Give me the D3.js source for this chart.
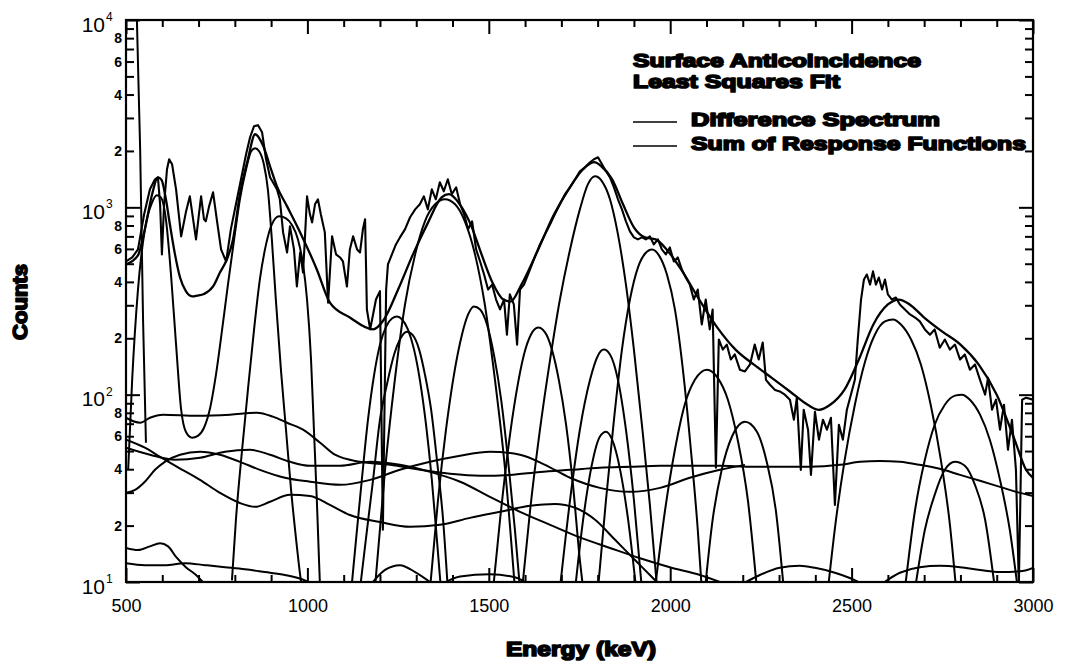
<!DOCTYPE html>
<html>
<head>
<meta charset="utf-8">
<script src="https://cdn.jsdelivr.net/npm/d3@7"></script>
<style>
  body { margin: 0; background: #fff; }
  svg { display: block; }
</style>
</head>
<body>
<script>
// measured spectrum minus background (jagged trace)
const diffSpectrum = [[500,514],[517,540],[533,596],[550,918],[566,1248],[580,1412],[588,1446],[594,1038],[599,561],[605,1038],[613,1597],[619,1806],[627,1698],[638,1248],[652,700],[665,940],[676,1145],[687,811],[693,674],[701,918],[707,1145],[715,863],[720,842],[729,1012],[740,1203],[751,842],[762,596],[776,514],[789,763],[803,1038],[817,1412],[831,1920],[842,2366],[853,2712],[864,2746],[875,2518],[886,1806],[897,1446],[905,1361],[916,1248],[924,1104],[933,735],[944,574],[952,791],[963,596],[971,378],[980,574],[988,449],[993,674],[999,1145],[1007,918],[1013,831],[1021,1038],[1029,1104],[1037,918],[1048,735],[1057,310],[1068,700],[1079,561],[1090,540],[1098,514],[1109,378],[1117,596],[1126,700],[1137,596],[1145,574],[1153,763],[1159,863],[1164,285],[1173,223],[1181,268],[1189,322],[1200,357],[1208,19],[1217,364],[1222,496],[1233,561],[1244,634],[1255,691],[1269,763],[1283,885],[1297,975],[1310,1038],[1321,1145],[1332,975],[1343,1248],[1354,1104],[1365,1361],[1376,1218],[1387,1412],[1398,1175],[1410,1279],[1421,1038],[1432,918],[1443,763],[1454,842],[1465,596],[1476,514],[1487,438],[1498,364],[1509,387],[1520,322],[1531,285],[1542,322],[1550,209],[1558,343],[1569,303],[1578,185],[1586,364],[1597,387],[1608,438],[1619,496],[1630,561],[1641,634],[1655,717],[1669,811],[1682,918],[1696,1038],[1710,1175],[1724,1279],[1738,1412],[1751,1559],[1765,1637],[1779,1741],[1790,1806],[1801,1850],[1812,1698],[1823,1559],[1834,1446],[1845,1279],[1856,1104],[1867,975],[1878,842],[1889,744],[1900,691],[1911,674],[1922,691],[1933,674],[1944,700],[1955,634],[1966,674],[1977,596],[1988,561],[1999,611],[2010,514],[2021,540],[2032,466],[2043,422],[2054,387],[2065,322],[2076,364],[2087,237],[2098,322],[2109,223],[2117,285],[2126,40.7],[2134,197],[2145,174],[2156,185],[2167,154],[2178,164],[2192,136],[2206,133],[2220,145],[2233,185],[2244,154],[2255,190],[2264,120],[2275,113],[2289,106],[2302,104],[2316,100],[2330,94],[2341,73.5],[2349,96.4],[2360,39.7],[2368,83.1],[2380,65],[2388,37.3],[2399,81],[2410,57.5],[2421,73.5],[2432,65],[2443,75.3],[2454,25.8],[2465,69.1],[2476,57.5],[2487,83.1],[2498,100],[2509,120],[2517,197],[2526,322],[2534,412],[2542,438],[2551,387],[2559,455],[2567,387],[2575,422],[2584,364],[2592,412],[2600,343],[2611,322],[2622,330],[2633,303],[2647,285],[2661,268],[2675,258],[2688,246],[2702,223],[2716,209],[2729,223],[2743,178],[2757,197],[2771,174],[2785,185],[2799,154],[2812,164],[2826,136],[2840,145],[2854,120],[2868,100],[2876,123],[2887,83.1],[2898,94],[2909,65],[2920,88.4],[2931,50.8],[2942,73.5],[2953,39.7],[2961,9.6],[2970,94],[2981,96.4],[3000,94]];

// least squares sum of response functions
const sumResponse = [[500,496],[533,554],[552,763],[572,1175],[588,1446],[598,1400],[610,1104],[621,811],[635,561],[649,422],[665,357],[682,335],[696,338],[715,345],[740,378],[759,449],[778,527],[795,674],[814,1175],[836,1806],[856,2456],[878,2130],[897,1657],[916,1295],[944,1012],[980,735],[1026,466],[1062,310],[1117,258],[1181,223],[1211,252],[1250,364],[1291,561],[1330,811],[1370,1130],[1390,1175],[1420,1038],[1450,811],[1480,561],[1510,397],[1540,322],[1560,314],[1590,387],[1630,561],[1680,918],[1720,1248],[1760,1597],[1790,1741],[1810,1657],[1840,1412],[1870,1038],[1900,782],[1930,692],[1960,674],[1990,596],[2030,466],[2080,322],[2130,228],[2180,174],[2230,145],[2280,123],[2330,104],[2380,88],[2410,83],[2440,88],[2480,106],[2520,154],[2560,237],[2600,303],[2630,322],[2660,303],[2700,258],[2750,217],[2800,185],[2850,145],[2900,100],[2950,57],[2980,40],[3000,36]];

// individual response functions (line peaks)
const peak511 = [[528,16560],[530,10120],[539,2042],[547,252],[555,55.4]];
const peak590and850 = [[506,39.7],[517,120],[533,364],[552,763],[572,1064],[585,1160],[596,1130],[610,863],[624,438],[638,185],[652,83.1],[665,63.4],[682,58.9],[698,60.3],[715,66.6],[732,85.2],[748,128],[765,223],[781,387],[798,674],[814,1104],[831,1597],[845,1993],[856,2069],[867,1993],[880,1698],[891,1248],[902,674],[913,322],[927,136],[941,65],[955,31],[969,16.8],[980,10.9],[985,9.2]];
const peak930 = [[792,10.2],[803,21.5],[820,50.8],[836,106],[853,223],[869,412],[886,634],[902,811],[922,895],[941,874],[958,802],[974,674],[988,496],[999,322],[1010,154],[1018,65],[1026,27.4],[1032,13.1],[1035,9.2]];
const peak1247 = [[1123,10],[1134,16.8],[1150,35.1],[1167,73.5],[1184,128],[1200,185],[1217,231],[1233,255],[1247,261],[1261,252],[1277,223],[1294,174],[1310,120],[1327,69.1],[1343,35.1],[1357,16.8],[1368,9.2]];
const peak1274 = [[1145,9.2],[1161,16.8],[1181,35.1],[1200,73.5],[1219,113],[1239,164],[1255,197],[1274,217],[1291,207],[1308,174],[1324,128],[1341,83.1],[1357,44.9],[1374,21.5],[1387,9.2]];
const peak1379 = [[1186,9.2],[1214,39.7],[1241,120],[1269,303],[1297,561],[1324,842],[1352,1038],[1379,1104],[1407,1038],[1434,842],[1462,561],[1489,303],[1517,120],[1545,39.7],[1572,9.2]];
const peak1459 = [[1338,9.2],[1360,27.4],[1382,65],[1404,128],[1426,209],[1443,268],[1459,296],[1476,285],[1495,237],[1514,164],[1534,94],[1553,44.9],[1572,19],[1586,9.2]];
const peak1636 = [[1512,9.2],[1531,21.5],[1553,50.8],[1575,100],[1597,164],[1616,209],[1636,228],[1655,215],[1674,174],[1693,120],[1713,69.1],[1732,33],[1751,13.1],[1760,9.2]];
const peak1793 = [[1592,9.2],[1614,24.3],[1641,65],[1669,154],[1696,322],[1724,596],[1751,975],[1773,1327],[1793,1465],[1812,1377],[1834,1104],[1856,717],[1878,387],[1900,174],[1922,69.1],[1944,25.8],[1964,9.2]];
const peak1817 = [[1696,9.2],[1724,27.4],[1751,65],[1779,120],[1801,162],[1817,174],[1834,164],[1856,120],[1878,65],[1900,27.4],[1922,9.2]];
const peak1823 = [[1738,9.2],[1760,21.5],[1784,42.2],[1806,59.6],[1823,63.4],[1840,57.5],[1862,39.7],[1884,21.5],[1906,9.2]];
const peak1950 = [[1801,9.2],[1823,27.4],[1845,73.5],[1867,174],[1889,322],[1911,477],[1931,567],[1950,596],[1969,554],[1991,438],[2013,285],[2035,136],[2057,50.8],[2076,19],[2087,9.2]];
const peak2101 = [[1958,9.2],[1986,24.3],[2013,50.8],[2040,88.4],[2068,120],[2101,136],[2131,123],[2159,94],[2186,57.5],[2214,27.4],[2239,9.2]];
const peak2206 = [[2096,9.2],[2117,21.5],[2142,39.7],[2170,59.6],[2206,71.7],[2239,63.4],[2266,43.8],[2291,24.3],[2313,9.2]];
const peak2614 = [[2435,9.2],[2457,21.5],[2481,44.9],[2509,88.4],[2537,150],[2564,209],[2592,246],[2614,252],[2636,237],[2664,197],[2691,145],[2718,88.4],[2746,44.9],[2771,20.2],[2788,9.2]];
const peak2804 = [[2647,9.2],[2675,24.3],[2702,44.9],[2729,69.1],[2757,88.4],[2785,98.8],[2804,100],[2826,94],[2854,78.2],[2881,57.5],[2909,35.1],[2936,19],[2958,9.2]];
const peak2785 = [[2675,9.2],[2702,19],[2729,29.2],[2757,39.7],[2785,43.8],[2812,41.7],[2840,33],[2868,21.5],[2895,9.2]];

// continuum response functions
const continuum1 = [[500,75.3],[539,70.8],[566,75.3],[602,78.2],[696,77.2],[787,78.2],[861,80.1],[905,76.3],[944,70.8],[988,65],[1035,55.4],[1076,47.8],[1145,43.8],[1228,42.2],[1310,39.7],[1393,37.8],[1476,36.9],[1558,37.3],[1641,38.7],[1724,39.7],[1806,40.7],[1889,41.2],[1972,41.7],[2054,41.7],[2137,41.7],[2220,41.2],[2302,41.2],[2385,41.2],[2468,42.2],[2523,43.8],[2578,44.3],[2633,43.8],[2688,42.2],[2743,40.2],[2799,37.3],[2854,34.7],[2909,32.2],[2964,29.9],[3000,28.8]];
const continuum2 = [[500,52.1],[566,47.8],[635,44.9],[704,46],[773,49.6],[842,50.8],[897,47.8],[952,43.8],[1007,41.7],[1090,41.7],[1173,43.8],[1255,42.2],[1338,38.7],[1421,34.3],[1503,28.5],[1586,23.7],[1669,20.2],[1751,17.3],[1834,15.2],[1917,13.4],[1999,12],[2082,10.9],[2137,10]];
const continuum3 = [[500,57.5],[552,52.1],[594,46.6],[641,41.2],[704,35.1],[759,29.9],[814,26.4],[856,25.2],[897,26.8],[952,29.2],[1007,28.8],[1062,25.8],[1117,22.8],[1200,20.9],[1283,19.7],[1365,20.2],[1448,22],[1531,23.7],[1614,25.5],[1682,26.1],[1738,24.9],[1793,21.5],[1848,16.8],[1903,13.1],[1944,10.9],[1972,9.6]];
const continuum4 = [[500,29.9],[525,31],[552,34.3],[580,39.7],[607,43.8],[649,47.8],[704,49.6],[759,47.8],[814,43.8],[869,39.7],[938,36],[1007,34.3],[1090,33],[1173,35.1],[1255,39.7],[1338,43.8],[1421,47.2],[1503,49.6],[1586,47.8],[1655,42.2],[1724,36],[1806,31.8],[1889,30.3],[1972,31.8],[2054,36],[2137,39.7],[2206,42.2]];
const continuum5 = [[500,15.2],[533,14.8],[566,15.5],[594,16.1],[616,15.5],[638,13.6],[665,12],[693,10.9],[720,9.6]];
const continuum6 = [[500,12.6],[552,12.3],[607,12.3],[663,12.6],[718,12.3],[773,12],[828,11.7],[883,11.3],[938,10.9],[993,10.2],[1021,9.6]];
const continuum7 = [[1173,9.6],[1214,11.6],[1255,12.3],[1297,11.3],[1338,10]];
const continuum8 = [[1365,9.6],[1421,10.7],[1503,11],[1572,10.6],[1614,9.6]];
const continuum9 = [[2192,9.6],[2247,10.9],[2302,11.9],[2357,12.2],[2399,11.9],[2454,11.2],[2495,10.5],[2537,9.6]];
const continuum10 = [[2578,9.6],[2633,11.2],[2688,12],[2743,12.2],[2799,12],[2854,11.6],[2909,11.3],[2964,11.4],[3000,11.9]];

const responseCurves = [peak511, peak590and850, peak930, peak1247, peak1274, peak1379, peak1459,
  peak1636, peak1793, peak1817, peak1823, peak1950, peak2101, peak2206, peak2614, peak2804, peak2785,
  continuum1, continuum2, continuum3, continuum4, continuum5, continuum6, continuum7, continuum8,
  continuum9, continuum10];

const xMajorTicks = [500, 1000, 1500, 2000, 2500, 3000];
const yDecades = [10, 100, 1000, 10000];
const yDecadeExponents = ["1", "2", "3", "4"];
const yMinorLabels = [2, 4, 6, 8];
const legendTitles = ["Surface Anticoincidence", "Least Squares Fit"];
const legendEntries = ["Difference Spectrum", "Sum of Response Functions"];

const width = 1067, height = 664;
const margin = {top: 20, right: 34, bottom: 82, left: 126};
const innerW = width - margin.left - margin.right,
      innerH = height - margin.top - margin.bottom;

const svg = d3.select("body").append("svg")
    .attr("width", width)
    .attr("height", height);

const g = svg.append("g")
    .attr("transform", `translate(${margin.left},${margin.top})`);

const x = d3.scaleLinear().domain([500, 3000]).range([0, innerW]);
const y = d3.scaleLog().domain([10, 10000]).range([innerH, 0]);

svg.append("defs").append("clipPath").attr("id", "plot")
  .append("rect").attr("width", innerW).attr("height", innerH);

const smooth = d3.line().x(d => x(d[0])).y(d => y(d[1])).curve(d3.curveMonotoneX);
const jagged = d3.line().x(d => x(d[0])).y(d => y(d[1]));

const curves = g.append("g").attr("clip-path", "url(#plot)")
    .attr("fill", "none").attr("stroke", "#000")
    .attr("stroke-linejoin", "round");

curves.selectAll(".resp")
    .data(responseCurves)
    .enter().append("path")
    .attr("class", "resp")
    .attr("stroke-width", 2)
    .attr("d", smooth);

curves.append("path").datum(sumResponse)
    .attr("stroke-width", 2.3)
    .attr("d", smooth);

curves.append("path").datum(diffSpectrum)
    .attr("stroke-width", 2.1)
    .attr("d", jagged);

// ticks (all pointing inward)
const xMinor = d3.range(500, 3001, 100).filter(v => v % 500 !== 0);
const yMinor = [];
yDecades.slice(0, 3).forEach(dec => d3.range(2, 10).forEach(m => yMinor.push(m * dec)));

function styleAxis(sel) {
  sel.select(".domain").remove();
  sel.selectAll("line").attr("stroke", "#000").attr("stroke-width", 2);
}

g.append("g").attr("transform", `translate(0,${innerH})`)
  .call(d3.axisBottom(x).tickValues(xMajorTicks).tickSize(-14).tickPadding(17).tickFormat(d3.format("d")))
  .call(styleAxis)
  .call(s => s.selectAll("text").attr("font-family", "Liberation Sans, Arial, sans-serif")
      .attr("font-size", 18).attr("fill", "#000"));
g.append("g").attr("transform", `translate(0,${innerH})`)
  .call(d3.axisBottom(x).tickValues(xMinor).tickSize(-7).tickFormat(""))
  .call(styleAxis);
g.append("g")
  .call(d3.axisTop(x).tickValues(xMajorTicks).tickSize(-14).tickFormat(""))
  .call(styleAxis);
g.append("g")
  .call(d3.axisTop(x).tickValues(xMinor).tickSize(-7).tickFormat(""))
  .call(styleAxis);

g.append("g").call(d3.axisLeft(y).tickValues(yDecades).tickSize(-14).tickFormat("")).call(styleAxis);
g.append("g").call(d3.axisLeft(y).tickValues(yMinor).tickSize(-8).tickFormat("")).call(styleAxis);
g.append("g").attr("transform", `translate(${innerW},0)`)
  .call(d3.axisRight(y).tickValues(yDecades).tickSize(-14).tickFormat("")).call(styleAxis);
g.append("g").attr("transform", `translate(${innerW},0)`)
  .call(d3.axisRight(y).tickValues(yMinor).tickSize(-8).tickFormat("")).call(styleAxis);

// frame
g.append("rect").attr("width", innerW).attr("height", innerH)
  .attr("fill", "none").attr("stroke", "#000").attr("stroke-width", 2.2);

// decade labels 10^n
const decLab = g.append("g").attr("font-family", "Liberation Sans, Arial, sans-serif").attr("fill", "#000");
yDecades.forEach((d, i) => {
  decLab.append("text").attr("x", -21).attr("y", y(d) + 11.5)
    .attr("text-anchor", "end").attr("font-size", 21).text("10");
  decLab.append("text").attr("x", -20).attr("y", y(d) + 1)
    .attr("font-size", 12).text(yDecadeExponents[i]);
});

// minor labels 2,4,6,8 per decade
const minorLab = g.append("g").attr("font-family", "Liberation Sans, Arial, sans-serif")
  .attr("font-weight", "bold").attr("font-size", 14).attr("text-anchor", "end");
yDecades.slice(0, 3).forEach(dec => {
  yMinorLabels.forEach(m => {
    minorLab.append("text").attr("x", -4).attr("y", y(m * dec)).attr("dy", "0.36em").text(m);
  });
});

// heavy (black-weight looking) text
function heavy(sel, size, len) {
  return sel.attr("font-family", "Liberation Sans, Arial, sans-serif")
    .attr("font-weight", "bold").attr("font-size", size)
    .attr("stroke", "#000").attr("stroke-width", 1.7).attr("stroke-linejoin", "round")
    .attr("fill", "#000")
    .attr("textLength", len).attr("lengthAdjust", "spacingAndGlyphs");
}

heavy(svg.append("text").attr("x", 581).attr("y", 656).attr("text-anchor", "middle"), 20, 150)
  .text("Energy (keV)");
heavy(svg.append("text").attr("transform", "translate(27,302) rotate(-90)").attr("text-anchor", "middle"), 20, 76)
  .text("Counts");

// legend
const titleY = [67, 88], titleLen = [288, 207];
legendTitles.forEach((t, i) => {
  heavy(svg.append("text").attr("x", 633).attr("y", titleY[i]), 19, titleLen[i]).text(t);
});
const entryY = [126, 150], entryLen = [249, 335];
legendEntries.forEach((t, i) => {
  svg.append("line").attr("x1", 633).attr("x2", 677)
    .attr("y1", entryY[i] - 4).attr("y2", entryY[i] - 4)
    .attr("stroke", "#000").attr("stroke-width", 1.4);
  heavy(svg.append("text").attr("x", 691).attr("y", entryY[i]), 19, entryLen[i]).text(t);
});
</script>
</body>
</html>
